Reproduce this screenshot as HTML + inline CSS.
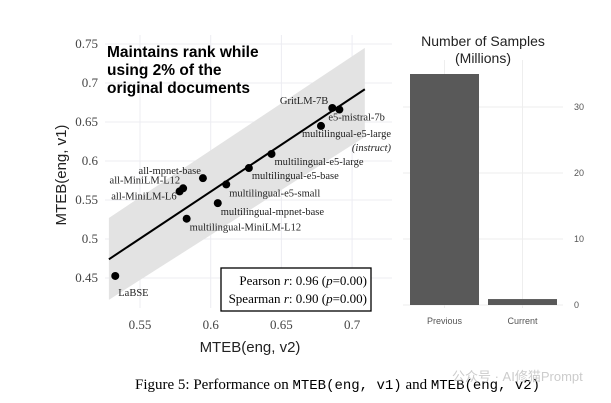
<!DOCTYPE html>
<html><head><meta charset="utf-8"><style>
body{margin:0;width:611px;height:403px;background:#fff;overflow:hidden;position:relative;font-family:"Liberation Sans",sans-serif}
svg{position:absolute;left:0;top:0}
</style></head><body>
<svg width="611" height="403" id="fig">
<g id="scatter"></g>
<g id="bars"></g>
<text x="135" y="389" font-family="Liberation Serif, serif" font-size="15" fill="#000">Figure 5: Performance on <tspan font-family="Liberation Mono, monospace" font-size="14">MTEB(eng, v1)</tspan> and <tspan font-family="Liberation Mono, monospace" font-size="14">MTEB(eng, v2)</tspan></text>
<text x="452" y="381" font-size="13" fill="#ccc">公众号 · AI修猫Prompt</text>
</svg>
<script>
const names=["LaBSE","all-MiniLM-L6","all-MiniLM-L12","all-mpnet-base","multilingual-MiniLM-L12","multilingual-mpnet-base","multilingual-e5-small","multilingual-e5-base","multilingual-e5-large","multilingual-e5-large-instruct","GritLM-7B","e5-mistral-7b"];
const v2=[0.5325,0.578,0.5805,0.5945,0.583,0.605,0.611,0.627,0.643,0.678,0.686,0.691];
const v1=[0.4526,0.561,0.565,0.578,0.526,0.546,0.570,0.591,0.609,0.645,0.668,0.666];
const xTicks=[0.55,0.6,0.65,0.7];
const yTicks=[0.45,0.5,0.55,0.6,0.65,0.7,0.75];
const fitX=[0.528,0.709], fitY=[0.474,0.692];
const bandTop=[0.527,0.745], bandBot=[0.422,0.631];
const barCats=["Previous","Current"];
const barVals=[35.0,0.9];
const barTicks=[0,10,20,30];

const NS="http://www.w3.org/2000/svg";
function mk(p,t,a,txt){const e=document.createElementNS(NS,t);for(const k in a)e.setAttribute(k,a[k]);if(txt!==undefined)e.textContent=txt;p.appendChild(e);return e;}
const X=v=>140+(v-0.55)*1414, Y=v=>278-(v-0.45)*780;
const S=document.getElementById('scatter');
for(let i=0;i<xTicks.length;i++){const t=xTicks[i];
 let g=mk(S,'line',{x1:X(t),x2:X(t),y1:35,y2:308,stroke:'#ececf2','stroke-width':1});
 
 let l=mk(S,'text',{x:X(t),y:329,'text-anchor':'middle','font-family':'Liberation Serif, serif','font-size':13,fill:'#444'},String(t));
 }
for(let i=0;i<yTicks.length;i++){const t=yTicks[i];
 let g=mk(S,'line',{x1:105,x2:392,y1:Y(t),y2:Y(t),stroke:'#ececf2','stroke-width':1});
 
 let l=mk(S,'text',{x:98,y:Y(t)+4,'text-anchor':'end','font-family':'Liberation Serif, serif','font-size':13,fill:'#444'},String(t));
 }
let band=mk(S,'polygon',{points:`${X(fitX[0])},${Y(bandTop[0])} ${X(fitX[1])},${Y(bandTop[1])} ${X(fitX[1])},${Y(bandBot[1])} ${X(fitX[0])},${Y(bandBot[0])}`,fill:'#e3e3e3'});

let fl=mk(S,'line',{x1:X(fitX[0]),y1:Y(fitY[0]),x2:X(fitX[1]),y2:Y(fitY[1]),stroke:'#000','stroke-width':2});

const lab=[[3,20,"start"],[-3,8,"end"],[-3,-5,"end"],[-2,-4,"end"],[3,12,"start"],[3,12,"start"],[3,12,"start"],[3,11,"start"],[3,11,"start"],[70,11,"end"],[-4,-4,"end"],[-11,11,"start"]];
for(let i=0;i<names.length;i++){
 let c=mk(S,'circle',{cx:X(v2[i]),cy:Y(v1[i]),r:4,fill:'#000'});
 
 let nm=names[i]==="multilingual-e5-large-instruct"?"multilingual-e5-large":names[i];
 let t=mk(S,'text',{x:X(v2[i])+lab[i][0],y:Y(v1[i])+lab[i][1],'text-anchor':lab[i][2],'font-family':'Liberation Serif, serif','font-size':10.5,fill:'#222'},nm);
 
 if(names[i]==="multilingual-e5-large-instruct"){let t2=mk(S,'text',{x:X(v2[i])+70,y:Y(v1[i])+25,'text-anchor':'end','font-family':'Liberation Serif, serif','font-size':10.5,'font-style':'italic',fill:'#222'},"(instruct)");
 }
}
const ann=["Maintains rank while","using 2% of the","original documents"];
for(let i=0;i<ann.length;i++){let t=mk(S,'text',{x:107,y:57+i*18,'font-weight':'900','font-size':15.5,fill:'#000'},ann[i]);}
let box=mk(S,'rect',{x:221,y:268,width:150,height:43,fill:'#fff',stroke:'#000','stroke-width':1.3});

let p1=mk(S,'text',{x:367,y:285,'text-anchor':'end','font-family':'Liberation Serif, serif','font-size':13});p1.innerHTML='Pearson <tspan font-style="italic">r</tspan>: 0.96 (<tspan font-style="italic">p</tspan>=0.00)';

let p2=mk(S,'text',{x:367,y:303,'text-anchor':'end','font-family':'Liberation Serif, serif','font-size':13});p2.innerHTML='Spearman <tspan font-style="italic">r</tspan>: 0.90 (<tspan font-style="italic">p</tspan>=0.00)';

let xt=mk(S,'text',{x:250,y:352,'text-anchor':'middle','font-size':15,fill:'#222'},"MTEB(eng, v2)");

let yt=mk(S,'text',{x:0,y:0,'text-anchor':'middle','font-size':15,fill:'#222',transform:'translate(66,175) rotate(-90)'},"MTEB(eng, v1)");


const B=document.getElementById('bars');
const BY=v=>305-v*6.6;
const bx=[410,488], bw=69;
for(let i=0;i<barCats.length;i++){let g=mk(B,'line',{x1:bx[i]+bw/2,x2:bx[i]+bw/2,y1:60,y2:308,stroke:'#eee'});}
for(let i=0;i<barTicks.length;i++){const t=barTicks[i];
 let g=mk(B,'line',{x1:403,x2:563,y1:BY(t),y2:BY(t),stroke:'#eee'});
 let l=mk(B,'text',{x:574,y:BY(t)+3,'font-size':9,fill:'#555'},String(t));}
for(let i=0;i<barCats.length;i++){
 let r=mk(B,'rect',{x:bx[i],y:BY(barVals[i]),width:bw,height:BY(0)-BY(barVals[i]),fill:'#595959'});
 
 let l=mk(B,'text',{x:bx[i]+bw/2,y:324,'text-anchor':'middle','font-size':9,fill:'#555'},barCats[i]);
 }
let t1=mk(B,'text',{x:483,y:46,'text-anchor':'middle','font-size':14,fill:'#222'},"Number of Samples");
let t2=mk(B,'text',{x:483,y:63,'text-anchor':'middle','font-size':14,fill:'#222'},"(Millions)");
</script>
</body></html>
